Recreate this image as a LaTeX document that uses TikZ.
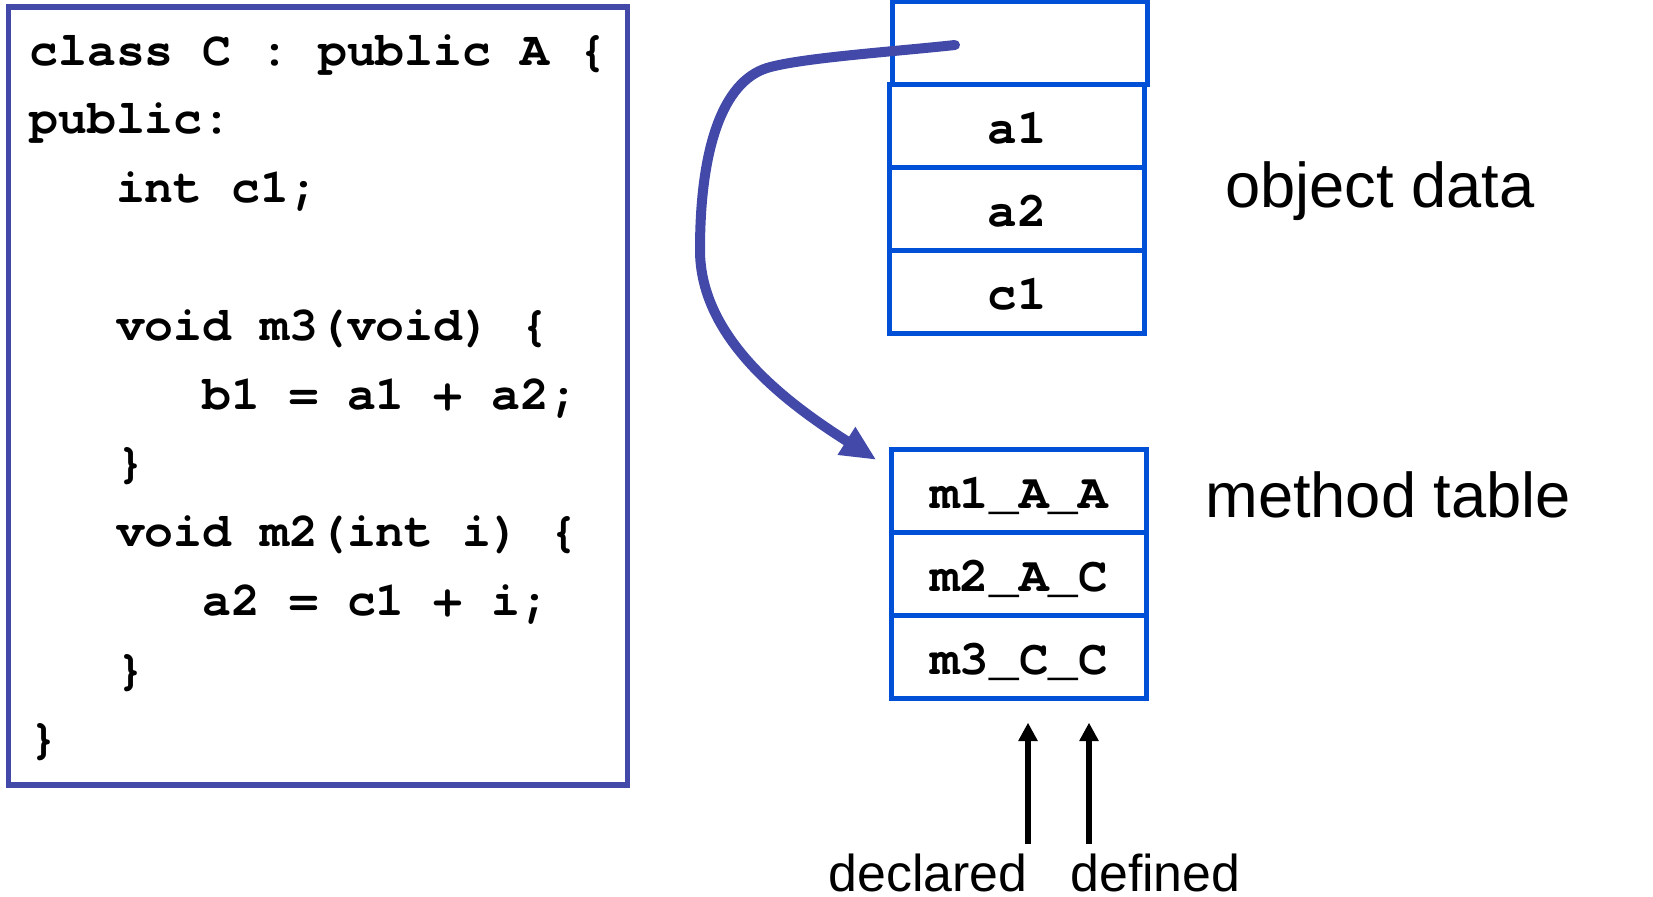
\documentclass[tikz,border=0pt]{standalone}
\usepackage{fontspec}
\setmainfont{Liberation Sans}
\newfontfamily\codefont{texgyrecursor}[Extension=.otf, UprightFont=*-regular, BoldFont=*-bold]
\usetikzlibrary{arrows.meta}
\definecolor{frameblue}{RGB}{67,73,168}
\definecolor{cellblue}{RGB}{0,80,215}
\tikzstyle{classbox}=[draw=frameblue, line width=0.11cm, minimum width=12.39cm, minimum height=15.57cm, inner sep=0]
\tikzstyle{code}=[inner sep=0, align=left, font=\codefont\bfseries\frenchspacing\fontsize{27.4}{39.15}\selectfont]
\tikzstyle{cell}=[draw=cellblue, line width=0.086cm, minimum width=5.1cm, minimum height=1.66cm, inner sep=0, text height=0.68cm, text depth=0pt, font=\codefont\bfseries\fontsize{28}{30}\selectfont]
\tikzstyle{caption}=[inner sep=0, font=\fontsize{36}{40}\selectfont]
\tikzstyle{tag}=[inner sep=0, font=\fontsize{29.5}{32}\selectfont]
\tikzstyle{link}=[draw=frameblue, line width=0.2cm, line cap=round, -{Triangle[length=0.71cm,width=0.61cm]}]
\tikzstyle{pointer}=[draw, line width=0.12cm, shorten >=0.44cm, -{Triangle[length=0.37cm,width=0.37cm]}]

\begin{document}
\begin{tikzpicture}[x=0.02cm, y=-0.02cm]
  \useasboundingbox (0,0) rectangle (1653,896);
  \node[classbox] (cls) at (318,396) {};
  \node[code, anchor=base west] (src) at (29,753) {%
    class C : public A \{\\
    public:\\
    ~~~int c1;\\
    ~\\
    ~~~void m3(void) \{\\
    ~~~~~~b1 = a1 + a2;\\
    ~~~\}\\
    ~~~void m2(int i) \{\\
    ~~~~~~a2 = c1 + i;\\
    ~~~\}\\
    \}};
  \node[cell] (ptr) at (1020,43) {};
  \node[cell] (a1) at (1017,126) {a1};
  \node[cell] (a2) at (1017,209) {a2};
  \node[cell] (c1) at (1017,292) {c1};
  \node[cell] (m1) at (1019,491) {m1\_A\_A};
  \node[cell] (m2) at (1019,574) {m2\_A\_C};
  \node[cell] (m3) at (1019,657) {m3\_C\_C};
  \node[caption, anchor=base west] (data) at (1225,207) {object data};
  \node[caption, anchor=base west] (table) at (1205,517) {method table};
  \node[tag, anchor=base east] (declared) at (1028,891) {declared};
  \node[tag, anchor=base west] (defined) at (1070,891) {defined};
  \coordinate (decl) at (1028,844);
  \coordinate (defn) at (1089,844);
  \draw[pointer] (decl) -- (decl |- m3.south);
  \draw[pointer] (defn) -- (defn |- m3.south);
  \draw[link] ([shift={(-1.3cm,-0.04cm)}]ptr.center)
    .. controls (890,52) and (800,58) .. (767,68)
    .. controls (722,82) and (700,150) .. (700,250)
    .. controls (700,340) and (790,405) .. ([shift={(-0.26cm,-0.25cm)}]m1.north west);
\end{tikzpicture}
\end{document}
